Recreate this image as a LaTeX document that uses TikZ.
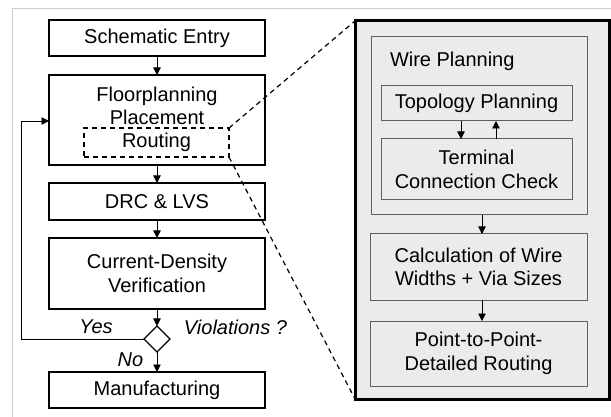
\documentclass[tikz,border=0pt]{standalone}
\usepackage{fontspec}
\setmainfont{Liberation Sans}
\usetikzlibrary{arrows.meta,shapes.geometric}
\definecolor{panelgray}{HTML}{EBEBEB}
\definecolor{innerline}{HTML}{5F5F5F}
\definecolor{framegray}{HTML}{CCCCCC}
\begin{document}
\begin{tikzpicture}[x=1pt,y=-1pt,
  every node/.style={font=\fontsize{20}{23.5}\selectfont, inner sep=0pt, outer sep=0pt},
  lbox/.style={draw=black, line width=1.8pt, fill=white, align=center, minimum width=216pt},
  gbox/.style={draw=innerline, line width=1pt, fill=panelgray, align=center},
  arr/.style={-{Triangle[length=7.5pt,width=7.5pt]}, line width=0.8pt},
  lab/.style={font=\fontsize{20}{23.5}\selectfont\itshape},
  zoomline/.style={dash pattern=on 5pt off 4pt, line width=1.2pt}
]
\useasboundingbox (0,0) rectangle (611,417);
\draw[framegray, line width=1pt] (12,417) |- (611,9);

% left flow
\node[lbox, minimum height=36pt] (se) at (157,38) {Schematic Entry};
\node[lbox, minimum height=90pt] (fp) at (157,120) {};
\node[anchor=base] (fpt1) at (157,102) {Floorplanning};
\node[anchor=base] (fpt2) at (157,125) {Placement};
\node[draw, dash pattern=on 5pt off 4pt, line width=1.2pt, minimum width=145pt, minimum height=29pt] (rt) at (156.5,142.5) {Routing};
\node[lbox, minimum height=37pt] (drc) at (157,201.5) {DRC \& LVS};
\node[lbox, minimum height=71pt] (cd) at (157,273.5) {Current-Density\\Verification};
\node[diamond, draw, line width=1.4pt, fill=white, minimum width=26pt, minimum height=26pt] (dm) at (157,339) {};
\node[lbox, minimum height=36pt] (mf) at (157,390) {Manufacturing};

\node[lab] (yes) at (96,327) {Yes};
\node[lab] (viol) at (235.5,327) {Violations ?};
\node[lab] (no) at (130.5,359.5) {No};

\draw[arr] (se) -- (fp);
\draw[arr] (fp) -- (drc);
\draw[arr] (drc) -- (cd);
\draw[arr] (cd) -- (dm);
\draw[arr] (dm) -- (mf);
\coordinate (fbc) at (21,121);
\draw[arr] (dm.west) -| (fbc) -- (fbc -| fp.west);

% right panel
\node[draw, line width=3pt, fill=panelgray, minimum width=254pt, minimum height=378pt] (panel) at (482,210) {};
\node[gbox, minimum width=216pt, minimum height=178pt] (wp) at (479,126) {};
\node[anchor=base west] (wpl) at (390,67) {Wire Planning};
\node[gbox, minimum width=191pt, minimum height=35pt] (tp) at (476.5,103.5) {Topology Planning};
\node[gbox, minimum width=191pt, minimum height=61pt] (tc) at (476.5,169.5) {Terminal\\Connection Check};
\node[gbox, minimum width=217pt, minimum height=66pt] (calc) at (478.5,267) {Calculation of Wire\\Widths + Via Sizes};
\node[gbox, minimum width=217pt, minimum height=65pt] (ptp) at (478.5,353.5) {Point-to-Point-\\Detailed Routing};

\draw[arr] ([xshift=-15.5pt]tp.south) -- ([xshift=-15.5pt]tc.north);
\draw[arr] ([xshift=19.5pt]tc.north) -- ([xshift=19.5pt]tp.south);
\draw[arr] ([xshift=3pt]wp.south) -- ([xshift=3.5pt]calc.north);
\draw[arr] ([xshift=3.5pt]calc.south) -- ([xshift=3.5pt]ptp.north);

% zoom lines
\draw[zoomline] (rt.north east) -- (panel.north west);
\draw[zoomline] (rt.south east) -- (panel.south west);
\end{tikzpicture}
\end{document}
